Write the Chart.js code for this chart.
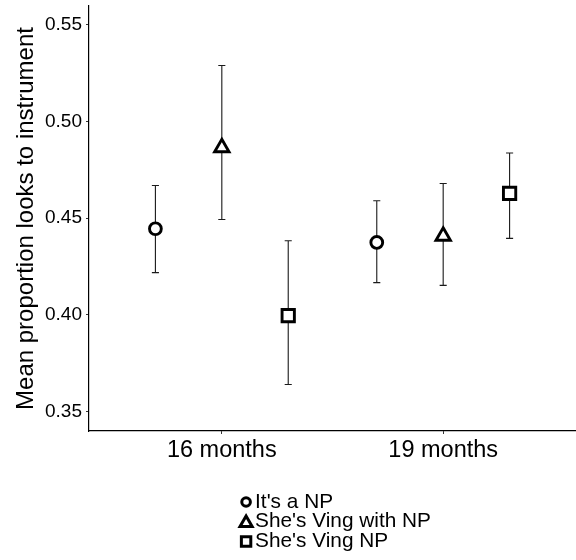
<!DOCTYPE html>
<html>
<head>
<meta charset="utf-8">
<script src="https://cdn.jsdelivr.net/npm/chart.js@4/dist/chart.umd.min.js"></script>
<style>
  html, body { margin: 0; padding: 0; background: #fff; }
  #c { display: block; }
</style>
</head>
<body>
<canvas id="c" width="576" height="560"></canvas>
<script>
// ---- data ----
const categories = ['16 months', '19 months'];
const seriesNames = ["It's a NP", "She's Ving with NP", "She's Ving NP"];
const yTicks = [0.35, 0.40, 0.45, 0.50, 0.55];

const itsANP_mean = [0.4445, 0.4374];
const itsANP_lo   = [0.4218, 0.4166];
const itsANP_hi   = [0.4669, 0.4590];

const vingWith_mean = [0.4865, 0.4407];
const vingWith_lo   = [0.4493, 0.4152];
const vingWith_hi   = [0.5290, 0.4679];

const vingNP_mean = [0.3995, 0.4628];
const vingNP_lo   = [0.3639, 0.4395];
const vingNP_hi   = [0.4383, 0.4837];

// ---- layout / style ----
const FONT = '"Liberation Sans", Arial, Helvetica, sans-serif';
const dodge = [-0.3, 0, 0.3];
const shapes = ['circle', 'triangle', 'rect'];
const radii = [5.9, 8.3, 8.7];
const means = [itsANP_mean, vingWith_mean, vingNP_mean];
const los = [itsANP_lo, vingWith_lo, vingNP_lo];
const his = [itsANP_hi, vingWith_hi, vingNP_hi];

const datasets = seriesNames.map((name, si) => ({
  label: name,
  data: categories.map((c, ci) => ({ x: ci + 1 + dodge[si], y: means[si][ci] })),
  pointStyle: shapes[si],
  pointRadius: radii[si],
  pointHoverRadius: radii[si],
  pointBackgroundColor: '#ffffff',
  pointBorderColor: '#000000',
  pointBorderWidth: 2.9,
  showLine: false,
  clip: false
}));

const errorBars = {
  id: 'errorBars',
  beforeDatasetsDraw(chart) {
    const { ctx, scales: { x, y } } = chart;
    ctx.save();
    ctx.strokeStyle = '#1a1a1a';
    ctx.lineWidth = 1.1;
    seriesNames.forEach((n, si) => {
      categories.forEach((c, ci) => {
        const cx = ci + 1 + dodge[si];
        const px = x.getPixelForValue(cx);
        const pl = x.getPixelForValue(cx - 0.016);
        const pr = x.getPixelForValue(cx + 0.016);
        const yl = y.getPixelForValue(los[si][ci]);
        const yh = y.getPixelForValue(his[si][ci]);
        ctx.beginPath();
        ctx.moveTo(px, yl); ctx.lineTo(px, yh);
        ctx.moveTo(pl, yl); ctx.lineTo(pr, yl);
        ctx.moveTo(pl, yh); ctx.lineTo(pr, yh);
        ctx.stroke();
      });
    });
    ctx.restore();
  }
};

function drawShape(ctx, shape, x, y) {
  ctx.beginPath();
  if (shape === 'circle') {
    ctx.arc(x, y, 4.3, 0, Math.PI * 2);
  } else if (shape === 'triangle') {
    const r = 7.0;
    ctx.moveTo(x, y - r);
    ctx.lineTo(x + r * 0.866, y + r * 0.5);
    ctx.lineTo(x - r * 0.866, y + r * 0.5);
    ctx.closePath();
  } else {
    const h = 4.7;
    ctx.rect(x - h, y - h, 2 * h, 2 * h);
  }
  ctx.fillStyle = '#fff';
  ctx.fill();
  ctx.stroke();
}

const bottomLegend = {
  id: 'bottomLegend',
  afterDraw(chart) {
    const { ctx, chartArea } = chart;
    ctx.save();
    ctx.font = '20.8px ' + FONT;
    ctx.textBaseline = 'middle';
    ctx.textAlign = 'left';
    const maxW = Math.max(...seriesNames.map(s => ctx.measureText(s).width));
    const symW = 12, gap = 3;
    const totalW = symW + gap + maxW;
    const center = (chartArea.left + chartArea.right) / 2 + 3;
    const left = center - totalW / 2;
    const rowY = [502, 521.5, 541.5];
    ctx.strokeStyle = '#000';
    ctx.lineWidth = 3;
    ctx.lineJoin = 'miter';
    seriesNames.forEach((s, i) => {
      const sy = rowY[i] + (shapes[i] === 'triangle' ? 1.5 : 0);
      drawShape(ctx, shapes[i], left + symW / 2, sy);
      ctx.fillStyle = '#000';
      ctx.fillText(s, left + symW + gap, rowY[i]);
    });
    ctx.restore();
  }
};

new Chart(document.getElementById('c'), {
  type: 'scatter',
  data: { datasets },
  plugins: [errorBars, bottomLegend],
  options: {
    responsive: false,
    animation: false,
    events: [],
    layout: { autoPadding: false, padding: { top: 6, left: 0, right: 0, bottom: 0 } },
    plugins: { legend: { display: false }, tooltip: { enabled: false } },
    scales: {
      x: {
        type: 'linear',
        min: 0.4,
        max: 2.6,
        afterBuildTicks: s => { s.ticks = categories.map((c, i) => ({ value: i + 1 })); },
        afterFit: s => { s.height = 129; s.paddingLeft = 0; s.paddingRight = 0; },
        ticks: {
          callback: v => categories[Math.round(v) - 1],
          font: { family: FONT, size: 23.5 },
          color: '#000',
          padding: 2,
          maxRotation: 0,
          autoSkip: false
        },
        grid: { drawOnChartArea: false, drawTicks: true, tickLength: 3, color: '#333', lineWidth: 1 },
        border: { display: true, color: '#000', width: 1.2 }
      },
      y: {
        min: 0.3398,
        max: 0.5598,
        afterBuildTicks: s => { s.ticks = yTicks.map(v => ({ value: v })); },
        afterFit: s => { s.width = 89; s.paddingTop = 0; s.paddingBottom = 0; },
        ticks: {
          callback: v => v.toFixed(2),
          font: { family: FONT, size: 19 },
          color: '#000',
          padding: 4
        },
        grid: { drawOnChartArea: false, drawTicks: true, tickLength: 3, color: '#333', lineWidth: 1 },
        border: { display: true, color: '#000', width: 1.2 },
        title: {
          display: true,
          text: 'Mean proportion looks to instrument',
          font: { family: FONT, size: 24 },
          color: '#000',
          padding: { top: 12, bottom: 0 }
        }
      }
    }
  }
});
</script>
</body>
</html>
